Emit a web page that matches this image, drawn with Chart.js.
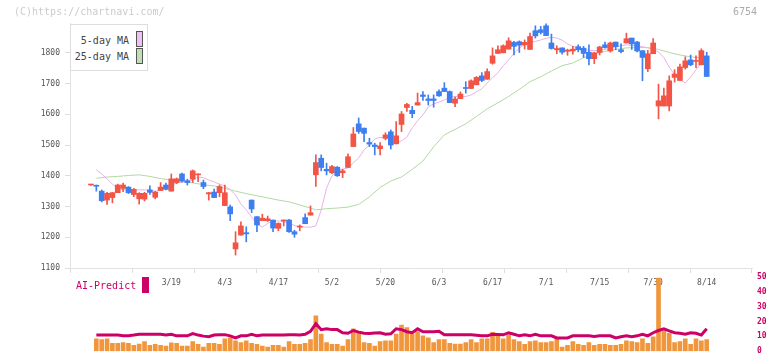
<!DOCTYPE html>
<html>
<head>
<meta charset="utf-8">
<script src="https://cdn.jsdelivr.net/npm/chart.js@4.4.1/dist/chart.umd.min.js"></script>
<style>
  body { margin: 0; background: #fff; }
  #wrap { position: relative; width: 772px; height: 361px; overflow: hidden; font-family: "DejaVu Sans Mono", monospace; }
  canvas { position: absolute; left: 0; }
  #main { top: 0; }
  #sub { top: 262px; }
  .txt { position: absolute; white-space: nowrap; font-size: 10px; line-height: 12px; }
  .legend { position: absolute; left: 70px; top: 24px; width: 78px; height: 47px; box-sizing: border-box; border: 1px solid #ddd; background: #fff; }
  .sw { position: absolute; width: 7px; height: 16px; box-sizing: border-box; border: 1px solid #555; }
</style>
</head>
<body>
<div id="wrap">
  <canvas id="main" width="772" height="295"></canvas>
  <canvas id="sub" width="772" height="99"></canvas>
  <div class="txt" style="left:14px; top:6px; color:#ccc;">(C)https://chartnavi.com/</div>
  <div class="txt" style="left:733px; top:6px; color:#aaa;">6754</div>
  <div class="legend"></div>
  <div class="txt" style="left:70px; width:59px; text-align:right; top:35px; color:#444;">5-day MA</div>
  <div class="sw" style="left:136px; top:31px; background:#f0c0f0;"></div>
  <div class="txt" style="left:70px; width:59px; text-align:right; top:51px; color:#444;">25-day MA</div>
  <div class="sw" style="left:136px; top:48px; background:#bfe0b4;"></div>
  <div class="txt" style="left:76px; top:280px; color:#cc0066;">AI-Predict</div>
  <div style="position:absolute; left:142px; top:277px; width:7px; height:16px; background:#cc0066;"></div>
</div>
<script>
// trading days (2025)
const dates = [
  "2/26","2/27","2/28","3/3","3/4","3/5","3/6","3/7","3/10","3/11",
  "3/12","3/13","3/14","3/17","3/18","3/19","3/21","3/24","3/25","3/26",
  "3/27","3/28","3/31","4/1","4/2","4/3","4/4","4/7","4/8","4/9",
  "4/10","4/11","4/14","4/15","4/16","4/17","4/18","4/21","4/22","4/23",
  "4/24","4/25","4/28","4/30","5/1","5/2","5/7","5/8","5/9","5/12",
  "5/13","5/14","5/15","5/16","5/19","5/20","5/21","5/22","5/23","5/26",
  "5/27","5/28","5/29","5/30","6/2","6/3","6/4","6/5","6/6","6/9",
  "6/10","6/11","6/12","6/13","6/16","6/17","6/18","6/19","6/20","6/23",
  "6/24","6/25","6/26","6/27","6/30","7/1","7/2","7/3","7/4","7/7",
  "7/8","7/9","7/10","7/11","7/14","7/15","7/16","7/17","7/18","7/22",
  "7/23","7/24","7/25","7/28","7/29","7/30","7/31","8/1","8/4","8/5",
  "8/6","8/7","8/8","8/12","8/13","8/14"
];
const tickDates = ["3/19","4/3","4/17","5/2","5/20","6/3","6/17","7/1","7/15","7/30","8/14"];
const priceTicks = [1100, 1200, 1300, 1400, 1500, 1600, 1700, 1800];

const open = [
  1370,1368,1350,1321,1329,1345,1359,1363,1339,1325,1324,1354,1330,1352,1370,1350,1378,1406,1384,1389,
  1403,1378,1341,1347,1345,1303,1299,1162,1207,1215,1321,1267,1254,1254,1256,1229,1253,1256,1218,1233,
  1264,1272,1403,1457,1421,1410,1428,1410,1427,1495,1569,1555,1508,1500,1488,1522,1543,1504,1567,1622,
  1613,1630,1663,1650,1650,1674,1685,1674,1636,1651,1687,1684,1696,1725,1714,1766,1798,1800,1812,1834,
  1836,1826,1811,1872,1875,1888,1832,1810,1816,1805,1806,1820,1815,1802,1781,1801,1826,1806,1835,1810,
  1832,1848,1835,1807,1748,1797,1627,1627,1627,1720,1710,1752,1777,1772,1761,1790
];
const high = [
  1372,1370,1354,1346,1346,1373,1376,1365,1359,1345,1346,1367,1350,1378,1376,1406,1393,1409,1389,1419,
  1406,1386,1346,1357,1370,1370,1305,1218,1250,1234,1321,1267,1275,1269,1256,1247,1256,1258,1223,1240,
  1276,1302,1468,1468,1441,1434,1430,1421,1471,1557,1588,1555,1522,1506,1508,1540,1549,1576,1609,1636,
  1626,1669,1674,1663,1663,1680,1703,1676,1656,1673,1706,1712,1723,1736,1748,1816,1823,1826,1849,1837,
  1839,1842,1864,1888,1886,1894,1861,1823,1816,1812,1821,1826,1821,1826,1802,1821,1835,1835,1835,1829,
  1864,1848,1837,1807,1808,1846,1698,1685,1725,1745,1763,1787,1793,1790,1813,1802
];
const low = [
  1369,1350,1315,1307,1312,1345,1348,1342,1332,1308,1318,1339,1325,1352,1354,1350,1374,1379,1370,1378,
  1381,1358,1321,1329,1332,1303,1254,1142,1207,1185,1280,1218,1254,1251,1218,1221,1237,1216,1200,1221,
  1244,1272,1365,1416,1403,1407,1398,1394,1427,1495,1538,1511,1495,1468,1468,1517,1487,1504,1544,1609,
  1589,1630,1645,1630,1623,1658,1674,1638,1625,1651,1669,1683,1696,1706,1714,1763,1798,1800,1812,1793,
  1801,1812,1811,1848,1861,1856,1812,1797,1796,1792,1796,1803,1785,1761,1765,1793,1815,1802,1810,1800,
  1832,1811,1803,1709,1739,1797,1585,1627,1611,1705,1710,1747,1758,1752,1761,1723
];
const close = [
  1371,1366,1319,1343,1345,1370,1370,1345,1356,1343,1343,1346,1347,1363,1356,1390,1390,1383,1378,1416,
  1406,1365,1345,1329,1365,1345,1276,1182,1237,1211,1292,1240,1262,1260,1230,1245,1256,1218,1210,1236,
  1244,1280,1443,1427,1416,1430,1400,1416,1462,1536,1544,1538,1503,1495,1497,1533,1500,1530,1601,1632,
  1602,1638,1658,1645,1645,1660,1674,1638,1650,1666,1684,1709,1720,1710,1739,1790,1810,1823,1839,1821,
  1825,1834,1853,1855,1866,1856,1814,1814,1802,1809,1812,1810,1798,1781,1800,1819,1817,1832,1820,1804,
  1846,1829,1806,1785,1797,1832,1644,1660,1709,1731,1754,1774,1761,1774,1807,1723
];

// moving averages (null = not drawn)
const ma5 = [
  null,1419,1406,1390,1373,1359,1355,1354,1355,1354,1354,1354,1349,1354,1364,1370,1377,1380,1381,1386,
  1396,1394,1386,1380,1373,1367,1355,1338,1308,1289,1266,1243,1233,1245,1253,1253,1251,1246,1238,1235,
  1233,1233,1237,1289,1360,1399,1419,1422,1425,1442,1458,1484,1500,1520,1525,1523,1517,1510,1513,1526,
  1556,1579,1598,1624,1634,1640,1647,1655,1658,1658,1658,1663,1673,1683,1702,1719,1735,1758,1777,1798,
  1816,1826,1834,1837,1842,1847,1851,1848,1841,1829,1821,1815,1812,1808,1807,1808,1811,1815,1820,1823,
  1826,1824,1823,1820,1816,1811,1803,1784,1754,1728,1712,1702,1722,1745,1767,1789
];
const ma25Idx = [1,3,5,7,9,11,13,15,17,19,21,23,25,27,29,31,33,35,37,39,41,42,44,46,48,50,52,54,56,58,
  60,62,64,66,68,70,72,74,76,78,80,82,84,86,88,90,92,94,96,98,100,102,104,106,108,110,112,114,115];
const ma25 = [1392,1396,1398,1401,1403,1398,1391,1386,1381,1377,1371,1367,1359,1350,1342,1335,1328,1321,1315,1305,
  1295,1289,1293,1295,1298,1307,1331,1362,1383,1396,1421,1448,1494,1533,1551,1569,1593,1618,1637,1658,
  1681,1706,1722,1741,1758,1767,1784,1797,1805,1811,1816,1817,1817,1811,1801,1793,1787,1783,1782];

// AI-Predict panel
const aiBar = [null,
  8.4,7.8,8.4,5.3,5.3,5.9,5.3,4.0,4.8,6.5, 4.0,4.7,4.0,3.4,5.7,5.3,3.4,3.4,6.5,4.7,
  2.8,5.3,5.3,4.7,8.4,9.0,7.1,5.9,7.1,5.3, 4.7,3.4,2.8,4.0,4.0,2.8,6.5,4.7,4.7,5.3,
  7.8,23.9,11.5,5.9,4.7,4.7,3.4,7.8,15.2,12.1, 5.9,5.3,3.4,6.5,7.1,
  7.1,11.5,17.7,16.0,11.5,13.2,10.4,9.0,5.9,7.8, 7.8,5.3,4.8,4.8,5.9,7.8,5.9,8.4,8.4,12.7,
  10.4,8.4,11.1,7.8,6.5,4.7,6.5,7.1,5.9,5.9, 6.5,9.4,2.8,4.0,6.5,4.7,4.0,5.9,4.0,4.7,
  4.7,4.0,4.0,4.7,7.1,6.5,5.9,8.4,5.3,9.8, 49.4,14.0,12.1,5.9,6.5,8.4,4.7,8.4,7.1,7.8
];
const aiLine = [null,
  10.9,10.9,10.9,10.9,10.9,10.4,10.4,10.9,11.5,11.5, 11.5,11.5,11.5,10.9,11.5,10.4,10.4,10.4,11.9,10.9,
  10.2,9.8,10.9,11.2,11.2,10.4,9.0,10.4,10.4,11.5, 10.4,10.9,10.9,10.9,10.9,10.9,11.2,11.2,10.9,11.5,
  13.5,18.7,14.6,15.2,14.6,14.6,12.5,12.1,14.0,12.9, 12.1,11.9,12.3,12.5,11.5,11.8,15.2,14.6,13.2,12.5,
  15.2,13.2,13.2,13.2,13.5,11.1,11.1,11.1,11.1,11.1, 11.1,10.8,10.4,10.4,11.5,11.3,11.1,12.5,11.5,10.4,
  11.1,10.4,11.5,10.4,10.4,10.4,9.0,9.0,9.0,10.4, 10.4,10.4,10.4,10.0,10.4,10.4,10.4,9.0,9.8,10.4,
  9.8,10.4,11.5,10.4,12.5,14.0,15.2,13.8,12.5,12.1, 11.5,12.5,12.1,10.9,15.2
];

const UP = "#f25545";
const DOWN = "#3f7ef0";
const X_MIN = -3.92, X_MAX = 123.46;

Chart.defaults.font.family = "'DejaVu Sans Mono', monospace";
Chart.defaults.animation = false;

const candleColors = close.map((c, i) => c >= open[i] ? UP : DOWN);
const bodies = dates.map((d, i) => ({ x: i, y: [open[i], close[i]] }));
const wicks = dates.map((d, i) => ({ x: i, y: [low[i], high[i]] }));
const ma5Pts = ma5.map((v, i) => ({ x: i, y: v }));
const ma25Pts = ma25Idx.map((idx, k) => ({ x: idx, y: ma25[k] }));

new Chart(document.getElementById("main"), {
    type: "bar",
    data: {
        datasets: [
            { label: "body", data: bodies, backgroundColor: candleColors, barThickness: 5, grouped: false, minBarLength: 1 },
            { label: "wick", data: wicks, backgroundColor: candleColors, barThickness: 1, grouped: false },
            { type: "line", label: "5-day MA", data: ma5Pts, borderColor: "#e8b2e8", borderWidth: 1, pointRadius: 0, tension: 0 },
            { type: "line", label: "25-day MA", data: ma25Pts, borderColor: "#b2d9a4", borderWidth: 1, pointRadius: 0, tension: 0 }
        ]
    },
    options: {
        responsive: false,
        layout: { padding: { top: 23, right: 20, left: 0, bottom: 0 } },
        plugins: { legend: { display: false }, tooltip: { enabled: false } },
        scales: {
            x: {
                type: "linear", min: X_MIN, max: X_MAX, offset: false, position: "bottom",
                grid: { drawOnChartArea: false, tickLength: 5, color: "#ddd", offset: false },
                border: { color: "#e2e2e2" },
                ticks: { display: false },
                afterBuildTicks: s => {
                    s.ticks = Array.from({ length: 12 }, (_, k) => ({ value: X_MIN + k * (X_MAX - X_MIN) / 11 }));
                },
                afterFit: s => { s.height = 5; }
            },
            x2: {
                type: "linear", min: X_MIN, max: X_MAX, offset: false, position: "bottom",
                grid: { display: false, drawTicks: false },
                border: { display: false },
                ticks: { color: "#555", font: { size: 8 }, padding: 5, maxRotation: 0, autoSkip: false,
                    callback: v => dates[v] },
                afterBuildTicks: s => {
                    s.ticks = tickDates.map(d => ({ value: dates.indexOf(d) }));
                },
                afterFit: s => { s.height = 22; }
            },
            y: {
                min: 1100, max: 1897,
                grid: { drawOnChartArea: false, tickLength: 5, color: "#ddd" },
                border: { color: "#e2e2e2" },
                ticks: { color: "#555", font: { size: 8 }, padding: 5, callback: v => String(v) },
                afterBuildTicks: s => { s.ticks = priceTicks.map(v => ({ value: v })); },
                afterFit: s => { s.width = 70; }
            }
        }
    }
});

const aiBarPts = aiBar.map((v, i) => ({ x: i, y: v }));
const aiLinePts = aiLine.map((v, i) => ({ x: i, y: v }));

new Chart(document.getElementById("sub"), {
    type: "bar",
    data: {
        datasets: [
            { type: "line", label: "AI-Predict", data: aiLinePts, borderColor: "#cc0066", borderWidth: 3, pointRadius: 0, tension: 0 },
            { label: "bar", data: aiBarPts, backgroundColor: "#f0973e", barThickness: 4, grouped: false }
        ]
    },
    options: {
        responsive: false,
        layout: { padding: { top: 15.3, right: 0, left: 70, bottom: 3.3 } },
        plugins: { legend: { display: false }, tooltip: { enabled: false } },
        scales: {
            x: { type: "linear", min: X_MIN, max: X_MAX, offset: false, display: false },
            y: {
                position: "right", min: 0, max: 50,
                grid: { display: false, drawTicks: false },
                border: { display: false },
                ticks: { stepSize: 10, color: "#cc0066", font: { size: 8, weight: "bold" }, padding: 5 },
                afterFit: s => { s.width = 20; }
            }
        }
    }
});
</script>
</body>
</html>
